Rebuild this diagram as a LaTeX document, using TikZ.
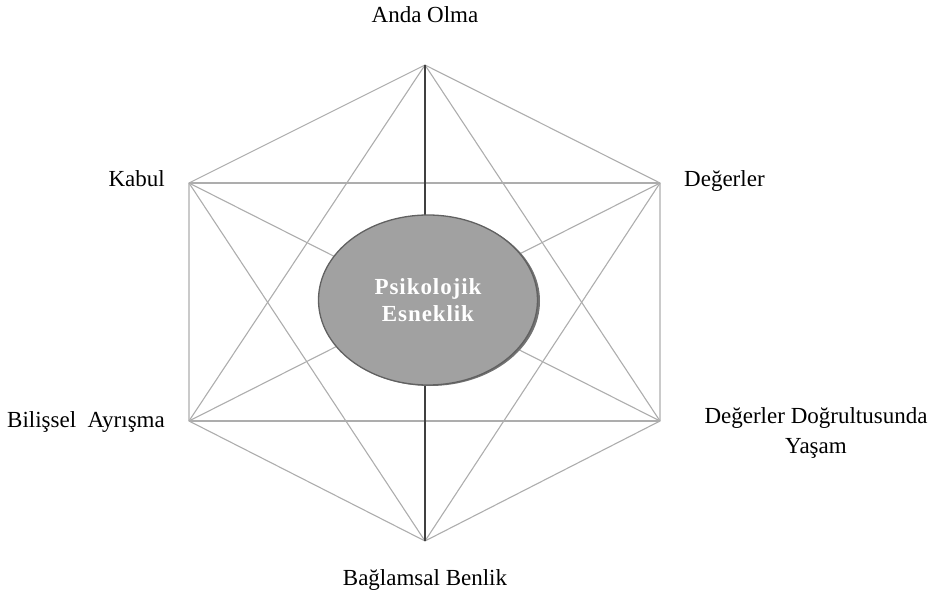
\documentclass[tikz,border=0pt]{standalone}
\usepackage{fontspec}
\setmainfont{Liberation Serif}
\newfontfamily\spacedbold[LetterSpace=4,BoldFont={Liberation Serif Bold}]{Liberation Serif}
\usetikzlibrary{shapes.geometric}
\begin{document}
\begin{tikzpicture}[x=1pt,y=-1pt,
  edge/.style={draw=black!32,line width=1.1pt},
  axis/.style={draw=black!75,line width=1.2pt},
  lbl/.style={font=\fontsize{23}{30}\selectfont,inner sep=0pt}]
\useasboundingbox (0,0) rectangle (930,596);
\coordinate (T) at (425,65);
\coordinate (UR) at (660,183);
\coordinate (LR) at (660,421);
\coordinate (B) at (425,541);
\coordinate (LL) at (189,421);
\coordinate (UL) at (189,183);
% hexagon edges
\draw[edge] (T) -- (UR) -- (LR) -- (B) -- (LL) -- (UL) -- cycle;
% diagonals
\draw[edge] (T) -- (LR);
\draw[edge] (T) -- (LL);
\draw[edge] (UR) -- (B);
\draw[edge] (UR) -- (LL);
\draw[edge] (UR) -- (UL);
\draw[edge] (LR) -- (LL);
\draw[edge] (LR) -- (UL);
\draw[edge] (B) -- (UL);
\draw[axis] (T) -- (B);
% centre ellipse
\fill[black!55] (430,301) ellipse (110 and 85);
\node[ellipse,draw=black!62,line width=1.3pt,fill=black!37,minimum width=219pt,minimum height=170pt,inner sep=0pt,
  align=center,text=white,font=\spacedbold\fontsize{23}{27}\selectfont\bfseries] (C) at (428,300)
  {Psikolojik\\Esneklik};
% labels
\node[lbl,anchor=base] (l1) at (425,23) {Anda Olma};
\node[lbl,anchor=base east] (l2) at (165,187) {Kabul};
\node[lbl,anchor=base west] (l3) at (684,187) {Değerler};
\node[lbl,anchor=base east] (l4) at (165,427) {Bilişsel\ \ Ayrışma};
\node[lbl,anchor=north,align=center] (l5) at (816,407) {Değerler Doğrultusunda\\Yaşam};
\node[lbl,anchor=base] (l6) at (425,585) {Bağlamsal Benlik};
\end{tikzpicture}
\end{document}
